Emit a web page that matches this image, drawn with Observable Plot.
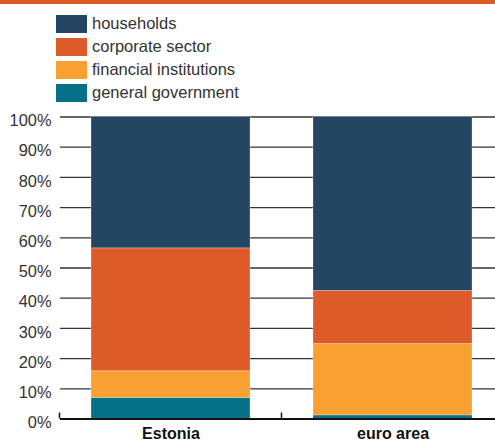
<!DOCTYPE html>
<html>
<head>
<meta charset="utf-8">
<script src="https://cdn.jsdelivr.net/npm/d3@7"></script>
<script src="https://cdn.jsdelivr.net/npm/@observablehq/plot@0.6"></script>
<style>
  html, body { margin: 0; padding: 0; background: #fff; }
  body { width: 495px; height: 443px; overflow: hidden; font-family: "Liberation Sans", Arial, sans-serif; }
  #topbar { height: 4px; background: #e05a28; }
  #legend { padding-top: 8px; }
  .row { height: 23px; display: flex; align-items: center; }
  .sw { width: 31px; height: 18px; margin-left: 56px; }
  .lb { margin-left: 5px; font-size: 16.5px; color: #333; line-height: 1; }
  svg { display: block; }
</style>
</head>
<body>
<div id="topbar"></div>
<div id="legend"></div>
<div id="chart"></div>
<script>
const categories = ["Estonia", "euro area"];
const sectors = ["general government", "financial institutions", "corporate sector", "households"];
const estonia = [7, 8.8, 40.7, 43.5];
const euroArea = [1.2, 23.6, 17.6, 57.6];
const colors = ["#047186", "#f8a031", "#dd5b28", "#244662"];
const yTicks = [0, 10, 20, 30, 40, 50, 60, 70, 80, 90, 100];

const series = [estonia, euroArea];
const table = [];
categories.forEach((c, i) => sectors.forEach((s, j) => table.push({category: c, sector: s, value: series[i][j]})));

// legend (top to bottom: households first)
const legend = document.getElementById("legend");
[3, 2, 1, 0].forEach(j => {
  const row = document.createElement("div");
  row.className = "row";
  row.innerHTML = `<div class="sw" style="background:${colors[j]}"></div><div class="lb">${sectors[j]}</div>`;
  legend.appendChild(row);
});

function boundaryTicks(index, scales, values, dims) {
  const x = scales.x, y = scales.y;
  const bw = typeof x.bandwidth === "function" ? x.bandwidth() : 0;
  const starts = categories.map(c => x(c));
  const gap = starts.length > 1 ? starts[1] - (starts[0] + bw) : 0;
  const bounds = [starts[0] - gap / 2];
  starts.forEach(s => bounds.push(s + bw + gap / 2));
  const g = d3.create("svg:g");
  const y0 = y(0);
  bounds.forEach(b => {
    g.append("line").attr("x1", b).attr("x2", b).attr("y1", y0).attr("y2", y0 - 6)
      .attr("stroke", "#111").attr("stroke-width", 1.5);
  });
  return g.node();
}

const chart = Plot.plot({
  width: 495,
  height: 339,
  marginTop: 12.5,
  marginBottom: 24.5,
  marginLeft: 60,
  marginRight: 0,
  style: {fontFamily: "Liberation Sans, Arial, sans-serif", background: "#fff"},
  x: {domain: categories, range: [59.5, 503.5], paddingInner: 0.284, paddingOuter: 0.142, align: 0.5},
  y: {domain: [0, 100]},
  color: {domain: sectors, range: colors},
  marks: [
    Plot.gridY(yTicks, {stroke: "#333", strokeOpacity: 1, strokeWidth: 1.3}),
    Plot.barY(table, Plot.stackY({x: "category", y: "value", fill: "sector", order: null, stroke: "#ffffff", strokeOpacity: 0.35, strokeWidth: 0.8})),
    Plot.ruleY([0], {stroke: "#111", strokeWidth: 2}),
    boundaryTicks,
    Plot.axisY(yTicks, {tickSize: 0, tickPadding: 9, dy: 4, tickFormat: d => d + "%", fontSize: 16.4, fill: "#333", label: null}),
    Plot.axisX({tickSize: 0, tickPadding: 8.5, fontSize: 16, fontWeight: "bold", fill: "#111", label: null})
  ]
});
document.getElementById("chart").appendChild(chart);
</script>
</body>
</html>
